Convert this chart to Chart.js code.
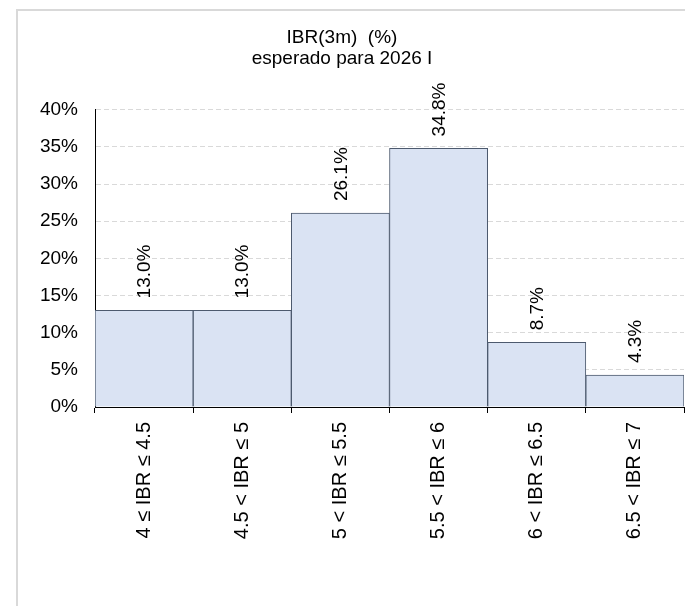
<!DOCTYPE html>
<html>
<head>
<meta charset="utf-8">
<script src="https://cdn.jsdelivr.net/npm/chart.js@4"></script>
<style>
  html, body { margin: 0; padding: 0; background: #fff; overflow: hidden; }
  #wrap { position: relative; width: 685px; height: 606px; }
  #frame { position: absolute; left: 16px; top: 9px; width: 720px; height: 660px; border: 2px solid #d9d9d9; box-sizing: border-box; }
  canvas { position: absolute; left: 0; top: 0; }
</style>
</head>
<body>
<div id="wrap">
  <div id="frame"></div>
  <canvas id="histChart" width="685" height="606"></canvas>
</div>
<script>
// Data
const categories = ['4 ≤ IBR ≤ 4.5', '4.5 < IBR ≤ 5', '5 < IBR ≤ 5.5', '5.5 < IBR ≤ 6', '6 < IBR ≤ 6.5', '6.5 < IBR ≤ 7'];
const shares = [13.0, 13.0, 26.1, 34.8, 8.7, 4.3];
const yTicks = [0, 5, 10, 15, 20, 25, 30, 35, 40];
const titleLines = ['IBR(3m)  (%)', 'esperado para 2026 I'];

const fontFamily = '"Liberation Sans", Arial, sans-serif';

// Rotated value labels above each bar
const barLabels = {
    id: 'barLabels',
    afterDatasetsDraw(chart) {
        const ctx = chart.ctx;
        const meta = chart.getDatasetMeta(0);
        ctx.save();
        ctx.fillStyle = '#000';
        ctx.font = '19px ' + fontFamily;
        ctx.textAlign = 'left';
        ctx.textBaseline = 'middle';
        meta.data.forEach((bar, i) => {
            ctx.save();
            ctx.translate(bar.x, bar.y - 12);
            ctx.rotate(-Math.PI / 2);
            ctx.fillText(shares[i].toFixed(1) + '%', 0, 1);
            ctx.restore();
        });
        ctx.restore();
    }
};

const ctx = document.getElementById('histChart').getContext('2d');
new Chart(ctx, {
    type: 'bar',
    data: {
        labels: categories,
        datasets: [{
            data: shares,
            backgroundColor: '#dae3f3',
            borderColor: '#4d5a6e',
            borderWidth: 1,
            categoryPercentage: 1,
            barPercentage: 1
        }]
    },
    options: {
        responsive: false,
        animation: false,
        layout: { padding: { left: 0, right: 1, top: 0, bottom: 0 } },
        plugins: {
            legend: { display: false },
            tooltip: { enabled: false },
            title: {
                display: true,
                text: titleLines,
                color: '#000',
                font: { family: fontFamily, size: 19, weight: 'normal', lineHeight: 1.1 },
                padding: { top: 27, bottom: 41 }
            }
        },
        scales: {
            x: {
                offset: true,
                grid: {
                    offset: true,
                    drawOnChartArea: false,
                    drawTicks: true,
                    tickLength: 6,
                    color: '#000'
                },
                border: { display: true, color: '#000', width: 1 },
                ticks: {
                    color: '#000',
                    font: { family: fontFamily, size: 20 },
                    minRotation: 90,
                    maxRotation: 90,
                    autoSkip: false,
                    padding: 9
                },
                afterFit(scale) { scale.height = 199; }
            },
            y: {
                min: 0,
                max: 40,
                afterBuildTicks(scale) { scale.ticks = yTicks.map(v => ({ value: v })); },
                grid: {
                    drawTicks: false,
                    color: '#d9d9d9',
                    lineWidth: 1
                },
                border: { display: true, color: '#000', width: 1, dash: [5, 3] },
                ticks: {
                    color: '#000',
                    font: { family: fontFamily, size: 19 },
                    padding: 17,
                    callback: v => v + '%'
                },
                afterFit(scale) { scale.width = 95; }
            }
        }
    },
    plugins: [barLabels]
});
</script>
</body>
</html>
